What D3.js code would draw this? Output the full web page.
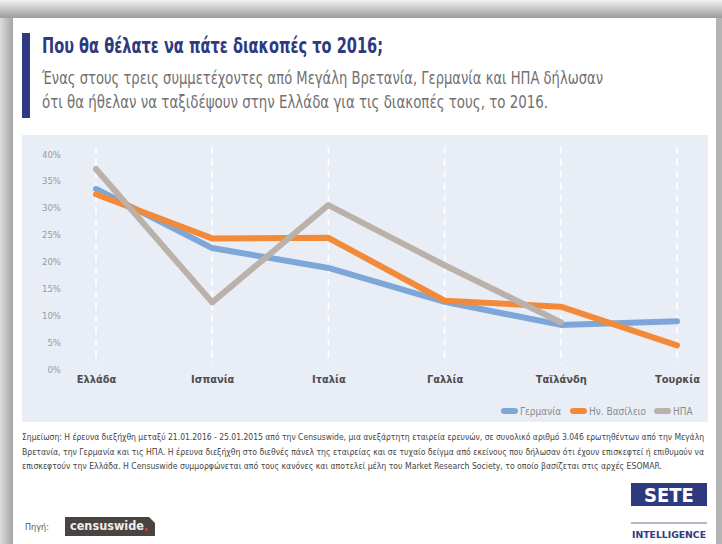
<!DOCTYPE html>
<html>
<head>
<meta charset="utf-8">
<script src="https://cdn.jsdelivr.net/npm/d3@7"></script>
<style>
  body { margin: 0; background: #fff; }
  svg { display: block; }
  text { font-family: "Liberation Sans Narrow", "DejaVu Sans Condensed", "Roboto Condensed", sans-serif; }
</style>
</head>
<body>
<script>
// data
const countries = ['Ελλάδα', 'Ισπανία', 'Ιταλία', 'Γαλλία', 'Ταϊλάνδη', 'Τουρκία'];
const germany = [33.5, 22.5, 18.8, 12.5, 8.2, 8.9];
const uk = [32.5, 24.3, 24.4, 12.7, 11.6, 4.4];
const usa = [37.2, 12.4, 30.5, 19.3, 8.7, null];
const seriesNames = ['Γερμανία', 'Ην. Βασίλειο', 'ΗΠΑ'];
const seriesColors = ['#7ea6d8', '#f28a3a', '#b9b1aa'];
const yTicks = [0, 5, 10, 15, 20, 25, 30, 35, 40];

const title = 'Που θα θέλατε να πάτε διακοπές το 2016;';
const subtitle = [
  'Ένας στους τρεις συμμετέχοντες από Μεγάλη Βρετανία, Γερμανία και ΗΠΑ δήλωσαν',
  'ότι θα ήθελαν να ταξιδέψουν στην Ελλάδα για τις διακοπές τους, το 2016.'
];
const note = [
  'Σημείωση: Η έρευνα διεξήχθη μεταξύ 21.01.2016 - 25.01.2015 από την Censuswide, μια ανεξάρτητη εταιρεία ερευνών, σε συνολικό αριθμό 3.046 ερωτηθέντων από την Μεγάλη',
  'Βρετανία, την Γερμανία και τις ΗΠΑ. Η έρευνα διεξήχθη στο διεθνές πάνελ της εταιρείας και σε τυχαίο δείγμα από εκείνους που δήλωσαν ότι έχουν επισκεφτεί ή επιθυμούν να',
  'επισκεφτούν την Ελλάδα. Η Censuswide συμμορφώνεται από τους κανόνες και αποτελεί μέλη του Market Research Society, το οποίο βασίζεται στις αρχές ESOMAR.'
];

const W = 722, H = 544;
const svg = d3.select('body').append('svg').attr('width', W).attr('height', H);
const defs = svg.append('defs');

// grey frame around the card
const gTop = defs.append('linearGradient').attr('id', 'gtop').attr('x1', 0).attr('y1', 0).attr('x2', 0).attr('y2', 1);
gTop.append('stop').attr('offset', 0).attr('stop-color', '#f2f2f2');
gTop.append('stop').attr('offset', 1).attr('stop-color', '#9c9c9c');
const gLeft = defs.append('linearGradient').attr('id', 'gleft').attr('x1', 0).attr('y1', 0).attr('x2', 1).attr('y2', 0);
gLeft.append('stop').attr('offset', 0).attr('stop-color', '#dcdcdc');
gLeft.append('stop').attr('offset', 1).attr('stop-color', '#a4a4a4');

svg.append('rect').attr('width', W).attr('height', H).attr('fill', '#b4b4b4');
svg.append('rect').attr('x', 0).attr('y', 18).attr('width', 13).attr('height', H).attr('fill', 'url(#gleft)');
svg.append('rect').attr('x', 0).attr('y', 0).attr('width', W).attr('height', 18).attr('fill', 'url(#gtop)');
svg.append('rect').attr('x', 13).attr('y', 18).attr('width', 703).attr('height', H - 18).attr('fill', '#fff');

// header
svg.append('rect').attr('x', 22).attr('y', 33).attr('width', 8).attr('height', 85).attr('fill', '#2e3a80');
svg.append('text').attr('x', 42).attr('y', 53).attr('fill', '#2e3a80')
  .attr('font-size', 21).attr('font-weight', 'bold')
  .attr('textLength', 341).attr('lengthAdjust', 'spacingAndGlyphs').text(title);
svg.append('g').selectAll('text').data(subtitle).join('text')
  .attr('x', 42).attr('y', (d, i) => 84 + i * 24).attr('fill', '#707070')
  .attr('font-size', 17)
  .attr('textLength', (d, i) => i === 0 ? 561 : 506).attr('lengthAdjust', 'spacingAndGlyphs')
  .text(d => d);

// chart panel
svg.append('rect').attr('x', 22).attr('y', 135).attr('width', 686).attr('height', 287).attr('fill', '#e9eef6');

const x = d3.scalePoint().domain(countries).range([96, 677]);
const y = d3.scaleLinear().domain([0, 40]).range([369, 154]);

// dashed white verticals
svg.append('g').selectAll('line').data(countries).join('line')
  .attr('x1', d => x(d)).attr('x2', d => x(d))
  .attr('y1', 147).attr('y2', 364)
  .attr('stroke', '#fff').attr('stroke-width', 1.5).attr('stroke-dasharray', '7,5');

// y axis
const yAxis = svg.append('g').attr('transform', 'translate(61,0)')
  .call(d3.axisLeft(y).tickValues(yTicks).tickFormat(d => d + '%').tickSize(0).tickPadding(0));
yAxis.select('.domain').remove();
yAxis.selectAll('text').attr('fill', '#9a9a9a').attr('font-size', 9.5)
  .attr('font-family', '"Liberation Sans Narrow", "DejaVu Sans Condensed", sans-serif');

// x axis labels
const xAxis = svg.append('g').attr('transform', 'translate(0,375)')
  .call(d3.axisBottom(x).tickSize(0).tickPadding(0));
xAxis.select('.domain').remove();
xAxis.selectAll('text').attr('fill', '#4d4d4d').attr('font-size', 11).attr('font-weight', 'bold')
  .attr('font-family', '"Liberation Sans Narrow", "DejaVu Sans Condensed", sans-serif');

// lines
const series = [germany, uk, usa];
const line = d3.line()
  .defined(d => d.v != null)
  .x(d => x(d.c)).y(d => y(d.v));
svg.append('g').selectAll('path').data(series).join('path')
  .attr('d', s => line(countries.map((c, i) => ({ c, v: s[i] }))))
  .attr('fill', 'none')
  .attr('stroke', (d, i) => seriesColors[i])
  .attr('stroke-width', 6)
  .attr('stroke-linecap', 'round')
  .attr('stroke-linejoin', 'round');

// legend
const legendX = [501, 570, 654];
const lg = svg.append('g').selectAll('g').data(seriesNames).join('g')
  .attr('transform', (d, i) => `translate(${legendX[i]},411)`);
lg.append('rect').attr('x', 0).attr('y', -3).attr('width', 17).attr('height', 6).attr('rx', 3)
  .attr('fill', (d, i) => seriesColors[i]);
lg.append('text').attr('x', 19).attr('y', 3.5).attr('font-size', 10).attr('fill', '#8a8a8a').text(d => d);

// note
svg.append('g').selectAll('text').data(note).join('text')
  .attr('x', 22).attr('y', (d, i) => 440 + i * 14.5)
  .attr('font-size', 8.5).attr('fill', '#444')
  .attr('textLength', (d, i) => [682, 682, 640][i]).attr('lengthAdjust', 'spacingAndGlyphs')
  .text(d => d);

// source
svg.append('text').attr('x', 25).attr('y', 530).attr('font-size', 9).attr('fill', '#555').text('Πηγή:');
svg.append('path')
  .attr('d', 'M65,517 H149 L155,523 V536 H65 Z')
  .attr('fill', '#4a4440');
svg.append('text').attr('x', 70).attr('y', 530).attr('font-size', 12).attr('fill', '#eee')
  .attr('font-family', '"Liberation Mono", "DejaVu Sans Mono", monospace').attr('font-weight', 'bold')
  .attr('textLength', 74).attr('lengthAdjust', 'spacingAndGlyphs').text('censuswide');
svg.append('rect').attr('x', 145).attr('y', 528).attr('width', 3).attr('height', 3).attr('fill', '#d8322a');

// SETE logo
svg.append('rect').attr('x', 631).attr('y', 483).attr('width', 76).attr('height', 23).attr('fill', '#2e3a80');
svg.append('text').attr('x', 669).attr('y', 502).attr('text-anchor', 'middle')
  .attr('font-size', 20).attr('font-weight', 'bold').attr('fill', '#fff')
  .attr('font-family', '"Open Sans", "DejaVu Sans", sans-serif').text('SETE');
svg.append('line').attr('x1', 631).attr('x2', 707).attr('y1', 523).attr('y2', 523)
  .attr('stroke', '#9a9fb5').attr('stroke-width', 1.5);
svg.append('text').attr('x', 669).attr('y', 538).attr('text-anchor', 'middle')
  .attr('font-size', 8).attr('font-weight', 'bold').attr('fill', '#2e3a80')
  .attr('font-family', '"Open Sans", "DejaVu Sans", sans-serif')
  .attr('textLength', 74).attr('lengthAdjust', 'spacingAndGlyphs').text('INTELLIGENCE');
</script>
</body>
</html>
